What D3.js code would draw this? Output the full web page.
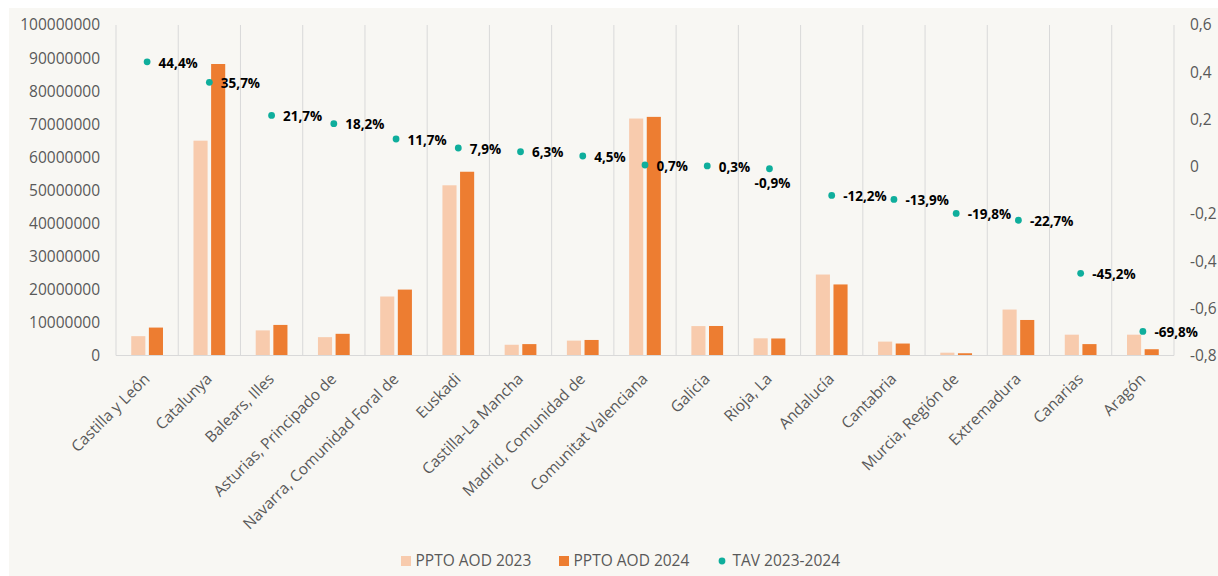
<!DOCTYPE html>
<html>
<head>
<meta charset="utf-8">
<script src="https://cdn.jsdelivr.net/npm/d3@7"></script>
<style>
  body { margin: 0; background: #fff; }
  svg { display: block; font-family: "Open Sans", sans-serif; }
</style>
</head>
<body>
<div id="chart"></div>
<script>
// Categories (communities) and series
const categories = [
    'Castilla y León', 'Catalunya', 'Balears, Illes', 'Asturias, Principado de',
    'Navarra, Comunidad Foral de', 'Euskadi', 'Castilla-La Mancha', 'Madrid, Comunidad de',
    'Comunitat Valenciana', 'Galicia', 'Rioja, La', 'Andalucía', 'Cantabria',
    'Murcia, Región de', 'Extremadura', 'Canarias', 'Aragón'
];
const ppto2023 = [5850000, 65000000, 7600000, 5550000, 17850000, 51500000, 3250000, 4500000,
    71700000, 8900000, 5200000, 24500000, 4200000, 850000, 13900000, 6300000, 6300000];
const ppto2024 = [8450000, 88200000, 9250000, 6560000, 19940000, 55600000, 3450000, 4700000,
    72200000, 8930000, 5150000, 21500000, 3620000, 680000, 10750000, 3450000, 1900000];
const tav = [0.444, 0.357, 0.217, 0.182, 0.117, 0.079, 0.063, 0.045, 0.007, 0.003, -0.009,
    -0.122, -0.139, -0.198, -0.227, -0.452, -0.698];
const leftTicks = d3.range(0, 100000001, 10000000);
const rightTicks = [-0.8, -0.6, -0.4, -0.2, 0, 0.2, 0.4, 0.6];
const seriesNames = ['PPTO AOD 2023', 'PPTO AOD 2024', 'TAV 2023-2024'];
const labelBelow = ['Rioja, La'];

const width = 1218;
const height = 576;
const plot = { left: 116, right: 1174, top: 25, bottom: 355.5 };
const colors = { c2023: '#f8cbad', c2024: '#ed7d31', tav: '#0fae9c', grid: '#d9d9d9', text: '#595959' };

const svg = d3.select('#chart')
    .append('svg')
    .attr('width', width)
    .attr('height', height);

// chart area background
svg.append('rect')
    .attr('x', 9).attr('y', 8)
    .attr('width', width - 9).attr('height', height - 8)
    .attr('fill', '#f8f7f3');

const x = d3.scaleBand()
    .domain(categories)
    .range([plot.left, plot.right])
    .padding(0);

const xInner = d3.scaleBand()
    .domain(['2023', '2024'])
    .range([x.bandwidth() * 0.245, x.bandwidth() * 0.755])
    .paddingInner(0.2);

const y = d3.scaleLinear()
    .domain([0, 100000000])
    .range([plot.bottom, plot.top]);

const y2 = d3.scaleLinear()
    .domain([-0.8, 0.6])
    .range([plot.bottom, plot.top]);

// vertical gridlines between categories
const bounds = categories.map(c => x(c)).concat([plot.right]);
svg.append('g')
    .selectAll('line')
    .data(bounds)
    .join('line')
    .attr('x1', d => d).attr('x2', d => d)
    .attr('y1', plot.top).attr('y2', plot.bottom)
    .attr('stroke', colors.grid)
    .attr('stroke-width', 1);

// bars
const rows = categories.map((c, i) => ({ cat: c, v2023: ppto2023[i], v2024: ppto2024[i], tav: tav[i] }));

svg.append('g')
    .selectAll('rect')
    .data(rows)
    .join('rect')
    .attr('x', d => x(d.cat) + xInner('2023'))
    .attr('y', d => y(d.v2023))
    .attr('width', xInner.bandwidth())
    .attr('height', d => y(0) - y(d.v2023))
    .attr('fill', colors.c2023);

svg.append('g')
    .selectAll('rect')
    .data(rows)
    .join('rect')
    .attr('x', d => x(d.cat) + xInner('2024'))
    .attr('y', d => y(d.v2024))
    .attr('width', xInner.bandwidth())
    .attr('height', d => y(0) - y(d.v2024))
    .attr('fill', colors.c2024);

// baseline
svg.append('line')
    .attr('x1', plot.left).attr('x2', plot.right)
    .attr('y1', y(0)).attr('y2', y(0))
    .attr('stroke', colors.grid)
    .attr('stroke-width', 1);

// left axis
const axL = svg.append('g')
    .attr('transform', `translate(${plot.left},0)`)
    .call(d3.axisLeft(y).tickValues(leftTicks).tickSize(0).tickPadding(16).tickFormat(d3.format('d')));
axL.select('.domain').remove();
axL.selectAll('text')
    .style('font-size', '15.5px')
    .style('font-family', '"Open Sans", sans-serif')
    .attr('fill', colors.text);

// right axis
const fmtRight = d => d === 0 ? '0' : d3.format('.1f')(d).replace('.', ',').replace('−', '-');
const axR = svg.append('g')
    .attr('transform', `translate(${plot.right},0)`)
    .call(d3.axisRight(y2).tickValues(rightTicks).tickSize(0).tickPadding(16).tickFormat(fmtRight));
axR.select('.domain').remove();
axR.selectAll('text')
    .style('font-size', '15.5px')
    .style('font-family', '"Open Sans", sans-serif')
    .attr('fill', colors.text);

// category labels
svg.append('g')
    .selectAll('text')
    .data(categories)
    .join('text')
    .attr('transform', d => `translate(${x(d) + x.bandwidth() / 2 + 3.5},380) rotate(-45)`)
    .attr('text-anchor', 'end')
    .style('font-size', '15.5px')
    .attr('fill', colors.text)
    .text(d => d);

// TAV dots and labels
const cx = d => x(d.cat) + x.bandwidth() / 2;
svg.append('g')
    .selectAll('circle')
    .data(rows)
    .join('circle')
    .attr('cx', cx)
    .attr('cy', d => y2(d.tav))
    .attr('r', 3.4)
    .attr('fill', colors.tav);

const fmtPct = v => (v * 100).toFixed(1).replace('.', ',') + '%';
svg.append('g')
    .selectAll('text')
    .data(rows)
    .join('text')
    .attr('x', d => labelBelow.includes(d.cat) ? cx(d) + 3 : cx(d) + 11.5)
    .attr('y', d => labelBelow.includes(d.cat) ? y2(d.tav) + 15 : y2(d.tav) + 1)
    .attr('dy', '0.35em')
    .attr('text-anchor', d => labelBelow.includes(d.cat) ? 'middle' : 'start')
    .style('font-size', '13.5px')
    .style('font-weight', 'bold')
    .attr('fill', '#000')
    .text(d => fmtPct(d.tav));

// legend
const legendY = 561;
const legend = svg.append('g');
const legItems = [
    { name: seriesNames[0], x: 401, type: 'rect', color: colors.c2023 },
    { name: seriesNames[1], x: 559, type: 'rect', color: colors.c2024 },
    { name: seriesNames[2], x: 718, type: 'dot', color: colors.tav }
];
legItems.forEach(it => {
    if (it.type === 'rect') {
        legend.append('rect')
            .attr('x', it.x).attr('y', legendY - 5)
            .attr('width', 10).attr('height', 10)
            .attr('fill', it.color);
    } else {
        legend.append('circle')
            .attr('cx', it.x + 4).attr('cy', legendY)
            .attr('r', 3.4)
            .attr('fill', it.color);
    }
    legend.append('text')
        .attr('x', it.x + 14.5)
        .attr('y', legendY)
        .attr('dy', '0.35em')
        .style('font-size', '15.5px')
        .attr('fill', colors.text)
        .text(it.name);
});
</script>
</body>
</html>
